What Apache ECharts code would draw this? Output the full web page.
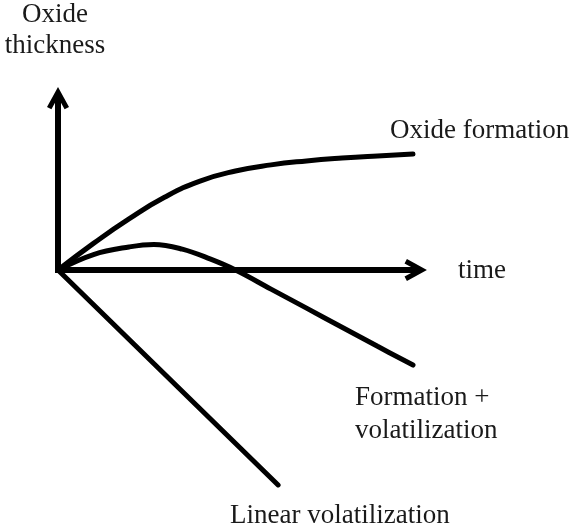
<!DOCTYPE html>
<html>
<head>
<meta charset="utf-8">
<script src="https://cdn.jsdelivr.net/npm/echarts@6/dist/echarts.min.js"></script>
<style>html,body{margin:0;padding:0;background:#fff}#c{width:573px;height:531px}</style>
</head>
<body>
<div id="c"></div>
<script>
// Schematic data (time units, thickness units)
const oxideTime = [0, 1, 2, 3, 4, 5, 6, 7, 8, 9, 10];
const oxideFormation = [0, 0.74, 1.42, 2.02, 2.47, 2.75, 2.92, 3.03, 3.11, 3.17, 3.22];
const mixedTime = [0, 1, 2, 2.7, 3.5, 4.3, 5, 6, 7, 8, 9, 10];
const formationVolatilization = [0, 0.43, 0.64, 0.71, 0.58, 0.3, 0.0, -0.53, -1.06, -1.59, -2.12, -2.64];
const linearTime = [0, 6.2];
const linearVolatilization = [0, -5.97];
const axisEnd = { x: 9.97, y: 4.67 };
const labels = {
  yTitle: 'Oxide\nthickness',
  xTitle: 'time',
  oxide: 'Oxide formation',
  mixed: 'Formation +\nvolatilization',
  linear: 'Linear volatilization'
};

const pair = (xs, ys) => xs.map((x, i) => [x, ys[i]]);
const arrowPath = 'path://M50 0 L100 66.7 L80 74.7 L63.6 53 L63.6 100 L36.4 100 L36.4 53 L20 74.7 L0 66.7 Z';
const FONT = '"Liberation Serif", "Times New Roman", serif';
const textStyle = (t, x, y, align, lh) => ({
  type: 'text', x: x, y: y, silent: true,
  style: { text: t, fill: '#1a1a1a', font: '27px ' + FONT, align: align, verticalAlign: 'middle', lineHeight: lh || 31 }
});

const chart = echarts.init(document.getElementById('c'), null, { renderer: 'canvas' });
const lineBase = { type: 'line', showSymbol: false, symbol: 'none', silent: true,
  lineStyle: { color: '#000', width: 5, cap: 'round' }, emphasis: { disabled: true } };

chart.setOption({
  animation: false,
  backgroundColor: '#fff',
  grid: { left: 58, right: 145.8, top: 81, bottom: 45 },
  xAxis: { type: 'value', min: 0, max: 10.4, show: false },
  yAxis: { type: 'value', min: -6, max: 5.25, show: false },
  series: [
    Object.assign({}, lineBase, {
      name: 'Oxide formation', smooth: 0.5, data: pair(oxideTime, oxideFormation),
      markLine: {
        silent: true, animation: false,
        symbol: ['none', arrowPath], symbolSize: [22, 30],
        label: { show: false },
        lineStyle: { color: '#000', width: 6, type: 'solid', cap: 'square' },
        emphasis: { disabled: true },
        data: [
          [{ coord: [0, 0] }, { coord: [axisEnd.x, 0] }],
          [{ coord: [0, 0] }, { coord: [0, axisEnd.y] }]
        ]
      }
    }),
    Object.assign({}, lineBase, { name: 'Formation + volatilization', smooth: 0.4, data: pair(mixedTime, formationVolatilization) }),
    Object.assign({}, lineBase, { name: 'Linear volatilization', data: pair(linearTime, linearVolatilization) })
  ],
  graphic: [
    textStyle(labels.yTitle, 55, 30, 'center', 31),
    textStyle(labels.oxide, 390, 131, 'left'),
    textStyle(labels.xTitle, 458, 271, 'left'),
    textStyle(labels.mixed, 355, 414.5, 'left', 33),
    textStyle(labels.linear, 230, 516, 'left')
  ]
});
</script>
</body>
</html>
